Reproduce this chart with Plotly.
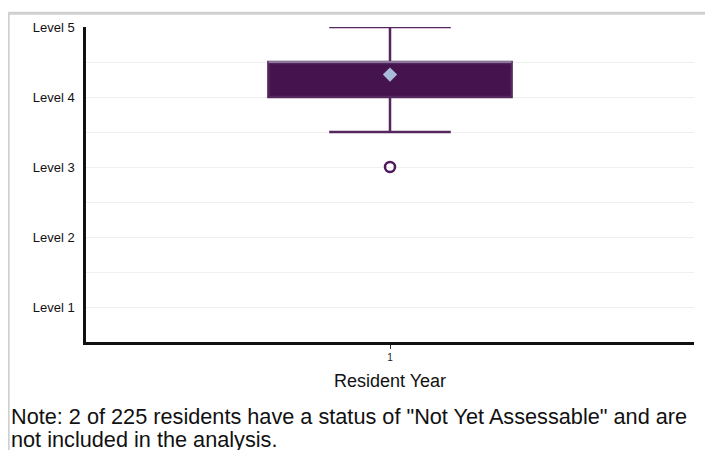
import plotly.graph_objects as go

# box statistics for resident year 1 (levels 1-5)
years = [1]
q1 = [4.0]
median = [4.5]
q3 = [4.5]
lower_fence = [3.5]
upper_fence = [5.0]
mean = [4.32]
outliers = [3.0]

level_vals = [1, 2, 3, 4, 5]
level_text = ["Level 1", "Level 2", "Level 3", "Level 4", "Level 5"]

note_lines = ['Note: 2 of 225 residents have a status of "Not Yet Assessable" and are',
              'not included in the analysis.']

purple = "#45144f"
box_w = 0.4

fig = go.Figure()
fig.add_trace(go.Box(
    x=years, q1=q1, median=median, q3=q3,
    lowerfence=lower_fence, upperfence=upper_fence,
    width=box_w, whiskerwidth=0.5,
    fillcolor=purple, line=dict(color="#55275f", width=2.5),
    boxpoints=False, hoverinfo="skip", showlegend=False,
))
# median edge drawn in a light tone, like the original
fig.add_trace(go.Scatter(
    x=[years[0] - box_w / 2, years[0] + box_w / 2], y=[median[0], median[0]],
    mode="lines", line=dict(color="#bcc8d8", width=1),
    hoverinfo="skip", showlegend=False,
))
fig.add_trace(go.Scatter(
    x=years, y=mean, mode="markers",
    marker=dict(symbol="diamond", size=11, color="#a8bcd9"),
    hoverinfo="skip", showlegend=False,
))
fig.add_trace(go.Scatter(
    x=years, y=outliers, mode="markers",
    marker=dict(symbol="circle-open", size=10, color="#4d1a5c", line=dict(width=2.5)),
    hoverinfo="skip", showlegend=False,
))

# page body has an 8px margin, so the figure is sized and offset for it
fig.update_layout(
    width=705, height=442,
    margin=dict(l=78, r=19, t=17, b=108),
    paper_bgcolor="white", plot_bgcolor="white",
    font=dict(family="Liberation Sans, Arial, sans-serif", color="#111111"),
    xaxis=dict(
        range=[0.5, 1.5], tickvals=years, ticktext=[str(y) for y in years],
        showgrid=False, zeroline=False,
        showline=True, linecolor="#111111", linewidth=3,
        ticks="outside", ticklen=4, tickcolor="#333333", tickwidth=1,
        tickfont=dict(size=10, color="#222222"),
        title=dict(text="Resident Year", font=dict(size=18), standoff=13),
    ),
    yaxis=dict(
        range=[0.5, 5.0], tickvals=level_vals, ticktext=level_text,
        tickfont=dict(size=13), ticklabelstandoff=6,
        showgrid=False, zeroline=False,
        showline=True, linecolor="#111111", linewidth=2.5,
        minor=dict(dtick=0.5, tick0=0.5, showgrid=True, gridcolor="#efefef", gridwidth=1),
    ),
    shapes=[
        dict(type="line", xref="paper", yref="paper", x0=-0.128, x1=1.1, y0=1.044, y1=1.044,
             line=dict(color="#d0d0d0", width=3), layer="below"),
        dict(type="line", xref="paper", yref="paper", x0=-0.128, x1=-0.128, y0=1.044, y1=-0.36,
             line=dict(color="#d0d0d0", width=3), layer="below"),
    ],
    annotations=[
        dict(text=note_lines[0], xref="paper", yref="paper", x=-0.126, y=-0.2366,
             xanchor="left", yanchor="middle", align="left", showarrow=False,
             font=dict(size=21.7, color="#111111")),
        dict(text=note_lines[1], xref="paper", yref="paper", x=-0.126, y=-0.309,
             xanchor="left", yanchor="middle", align="left", showarrow=False,
             font=dict(size=21.7, color="#111111")),
    ],
)

fig.write_html("out.html")
